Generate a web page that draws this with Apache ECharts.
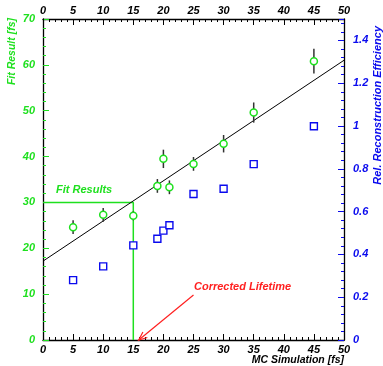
<!DOCTYPE html>
<html>
<head>
<meta charset="utf-8">
<script src="https://cdn.jsdelivr.net/npm/echarts@6/dist/echarts.min.js"></script>
<style>
  html, body { margin: 0; padding: 0; background: #fff; }
  #chart { width: 383px; height: 366px; }
</style>
</head>
<body>
<div id="chart"></div>
<script>
// MC simulation lifetimes [fs]
const mcLifetime = [5, 10, 15, 19, 20, 21, 25, 30, 35, 45];
// fitted lifetimes [fs] and their errors
const fitResult = [24.6, 27.3, 27.1, 33.6, 39.5, 33.3, 38.4, 42.8, 49.6, 60.8];
const fitError = [1.5, 1.5, 1.0, 1.5, 2.0, 1.5, 1.5, 1.9, 2.2, 2.7];
// relative reconstruction efficiency
const efficiency = [0.28, 0.344, 0.442, 0.473, 0.511, 0.536, 0.682, 0.707, 0.822, 0.999];
// straight line fit, evaluated at both ends of the x range
const fitLineX = [0, 50];
const fitLineY = [17.2, 61.0];
// working point: measured 30 fs -> corrected 15 fs
const workX = 15;
const workY = 30;
// arrow of the "Corrected Lifetime" label (from, to)
const arrowFrom = [25.0, 9.8];
const arrowTo = [15.9, 0];

const green = '#1ee01e';
const blue = '#0a0aee';
const red = '#ff2020';
const font = 'Liberation Sans';

const chartsDom = document.getElementById('chart');
const mychart = echarts.init(chartsDom, null, { renderer: 'canvas' });

const labelStyle = (color) => ({
  color: color,
  fontFamily: font,
  fontStyle: 'italic',
  fontWeight: 'bold',
  fontSize: 11,
});

const xAxisBase = {
  type: 'value',
  min: 0,
  max: 50,
  interval: 5,
  axisLine: { show: true, onZero: false, lineStyle: { color: '#000', width: 1.3 } },
  axisTick: { show: true, inside: true, length: 6, lineStyle: { color: '#000' } },
  minorTick: { show: true, splitNumber: 5, length: 3, lineStyle: { color: '#000' } },
  splitLine: { show: false },
};

const option = {
  animation: false,
  grid: {
    left: 43,
    right: 39,
    top: 19,
    bottom: 26,
    containLabel: false,
    outerBoundsMode: 'none',
  },
  xAxis: [
    Object.assign({}, xAxisBase, {
      position: 'bottom',
      axisLabel: Object.assign(labelStyle('#000'), { margin: 4 }),
    }),
    Object.assign({}, xAxisBase, {
      position: 'top',
      axisLabel: Object.assign(labelStyle('#000'), { margin: 3 }),
    }),
  ],
  yAxis: [
    {
      type: 'value',
      position: 'left',
      min: 0,
      max: 70,
      interval: 10,
      axisLine: { show: true, onZero: false, lineStyle: { color: '#000', width: 1.3 } },
      axisTick: { show: true, inside: true, length: 6, lineStyle: { color: green } },
      minorTick: { show: true, splitNumber: 5, length: 3, lineStyle: { color: green } },
      splitLine: { show: false },
      axisLabel: Object.assign(labelStyle(green), { margin: 8 }),
    },
    {
      type: 'value',
      position: 'right',
      min: 0,
      max: 1.5,
      interval: 0.2,
      axisLine: { show: true, onZero: false, lineStyle: { color: '#000', width: 1.3 } },
      axisTick: { show: true, inside: true, length: 6, lineStyle: { color: blue } },
      minorTick: { show: true, splitNumber: 5, length: 3, lineStyle: { color: blue } },
      splitLine: { show: false },
      axisLabel: Object.assign(labelStyle(blue), { margin: 9, showMaxLabel: false }),
    },
  ],
  graphic: [
    {
      type: 'text',
      x: 12,
      y: 18,
      rotation: Math.PI / 2,
      style: { text: 'Fit Result [fs]', fill: green, align: 'right', verticalAlign: 'middle',
        font: 'italic bold 10.5px "Liberation Sans"' },
    },
    {
      type: 'text',
      x: 378,
      y: 26,
      rotation: Math.PI / 2,
      style: { text: 'Rel. Reconstruction Efficiency', fill: blue, align: 'right', verticalAlign: 'middle',
        font: 'italic bold 11px "Liberation Sans"' },
    },
    {
      type: 'text',
      x: 344,
      y: 360,
      style: { text: 'MC Simulation [fs]', fill: '#000', align: 'right', verticalAlign: 'middle',
        font: 'italic bold 10.5px "Liberation Sans"' },
    },
    {
      type: 'text',
      x: 56,
      y: 190,
      style: { text: 'Fit Results', fill: green, align: 'left', verticalAlign: 'middle',
        font: 'italic bold 11px "Liberation Sans"' },
    },
    {
      type: 'text',
      x: 194,
      y: 287,
      style: { text: 'Corrected Lifetime', fill: red, align: 'left', verticalAlign: 'middle',
        font: 'italic bold 11px "Liberation Sans"' },
    },
  ],
  series: [
    {
      // working point guide lines
      type: 'line',
      xAxisIndex: 0,
      yAxisIndex: 0,
      data: [[0, workY], [workX, workY], [workX, 0]],
      symbol: 'none',
      lineStyle: { color: green, width: 1.5 },
      z: 2,
    },
    {
      // straight line fit
      type: 'line',
      xAxisIndex: 0,
      yAxisIndex: 0,
      data: fitLineX.map((x, i) => [x, fitLineY[i]]),
      symbol: 'none',
      lineStyle: { color: '#000', width: 1 },
      z: 3,
    },
    {
      // error bars
      type: 'custom',
      xAxisIndex: 0,
      yAxisIndex: 0,
      data: mcLifetime.map((x, i) => [x, fitResult[i], fitError[i]]),
      encode: { x: 0, y: [1] },
      renderItem: (params, api) => {
        const x = api.value(0);
        const y = api.value(1);
        const e = api.value(2);
        const p1 = api.coord([x, y - e]);
        const p2 = api.coord([x, y + e]);
        return {
          type: 'line',
          shape: { x1: p1[0], y1: p1[1], x2: p2[0], y2: p2[1] },
          style: { stroke: '#333', lineWidth: 1.5 },
        };
      },
      z: 4,
    },
    {
      type: 'scatter',
      name: 'fit',
      xAxisIndex: 0,
      yAxisIndex: 0,
      data: mcLifetime.map((x, i) => [x, fitResult[i]]),
      symbol: 'circle',
      symbolSize: 7,
      itemStyle: { color: '#fff', borderColor: green, borderWidth: 1.5, opacity: 1 },
      z: 5,
    },
    {
      type: 'scatter',
      name: 'eff',
      xAxisIndex: 0,
      yAxisIndex: 1,
      data: mcLifetime.map((x, i) => [x, efficiency[i]]),
      symbol: 'rect',
      symbolSize: 7,
      itemStyle: { color: '#fff', borderColor: blue, borderWidth: 1.4, opacity: 1 },
      z: 5,
    },
    {
      // red arrow
      type: 'custom',
      xAxisIndex: 0,
      yAxisIndex: 0,
      data: [[arrowFrom[0], arrowFrom[1], arrowTo[0], arrowTo[1]]],
      encode: { x: [0, 2], y: [1, 3] },
      clip: false,
      renderItem: (params, api) => {
        const a = api.coord([api.value(0), api.value(1)]);
        const b = api.coord([api.value(2), api.value(3)]);
        const ang = Math.atan2(a[1] - b[1], a[0] - b[0]);
        const len = 9;
        const spread = 0.4;
        const h1 = [b[0] + len * Math.cos(ang + spread), b[1] + len * Math.sin(ang + spread)];
        const h2 = [b[0] + len * Math.cos(ang - spread), b[1] + len * Math.sin(ang - spread)];
        const st = { stroke: red, lineWidth: 1.2, fill: null };
        return {
          type: 'group',
          children: [
            { type: 'line', shape: { x1: a[0], y1: a[1], x2: b[0], y2: b[1] }, style: st },
            { type: 'polyline', shape: { points: [h1, b, h2] }, style: st },
          ],
        };
      },
      z: 6,
    },
  ],
};

mychart.setOption(option);

window.addEventListener('resize', () => {
  mychart.resize();
});
</script>
</body>
</html>
